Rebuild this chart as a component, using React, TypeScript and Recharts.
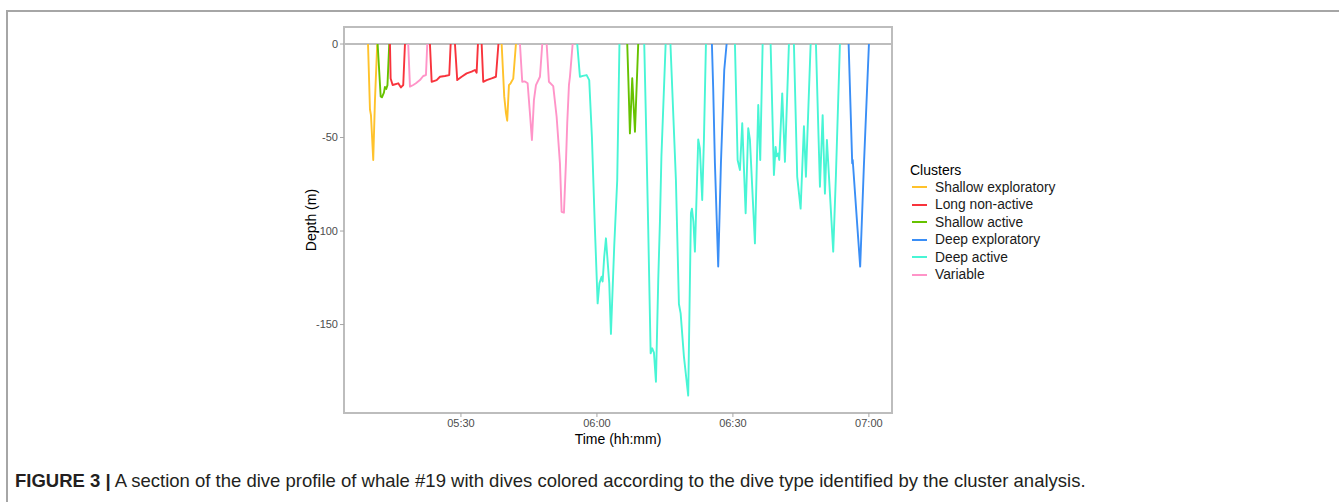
import { LineChart, Line, XAxis, YAxis, ReferenceLine, ReferenceArea } from 'recharts'

const clusterNames = [
  'Shallow exploratory',
  'Long non-active',
  'Shallow active',
  'Deep exploratory',
  'Deep active',
  'Variable',
]
const clusterColors = ['#ffc22b', '#f8333c', '#66c200', '#3a8ef6', '#48f5d5', '#ff94c8']

const timeTicks = [330, 360, 390, 420]
const depthTicks = [0, -50, -100, -150]
const timeDomain = [304.2, 425.1]
const depthDomain = [-197.3, 9.1]

// dive profiles, [time (minutes after midnight), depth (m)]
const dive01 = [[309.5, 0], [309.93, -35], [310.15, -38], [310.65, -62], [311.03, -30], [311.53, 0]]
const dive02 = [[311.62, 0], [312.29, -28], [312.57, -28.5], [313.01, -26], [313.23, -23], [313.52, -24], [313.79, -22], [314.18, 0]]
const dive03 = [[314.34, 0], [314.49, -18.4], [314.93, -21.9], [316.17, -21], [316.76, -23.2], [317.27, -21.9], [317.65, 0]]
const dive04 = [[318.37, 0], [318.75, -22.8], [319.48, -21.9], [320.07, -21], [320.95, -19.3], [321.68, -17.1], [322.28, -16.6], [322.57, 0]]
const dive05 = [[323.16, 0], [323.54, -20.2], [324.64, -19.3], [325.37, -17.5], [326.47, -17.1], [327.42, -16.6], [327.73, 0]]
const dive06 = [[328.68, 0], [329.18, -19.3], [330.15, -17.5], [331.26, -15.7], [332.36, -14.8], [333.09, -13.9], [333.46, -15.3], [333.75, 0]]
const dive07 = [[334.57, 0], [334.92, -20.2], [335.67, -19.3], [336.77, -18.4], [337.72, -17.5], [338.27, 0]]
const dive08 = [[338.98, 0], [339.55, -28], [339.93, -37], [340.21, -41], [340.59, -22], [340.96, -21], [341.54, -18.5], [342.13, 0]]
const dive09 = [[343.02, 0], [343.52, -20.2], [344.12, -20], [344.71, -21], [345.22, -37], [345.66, -51.3], [346.1, -30], [346.55, -22], [347.43, -17.5], [347.94, 0]]
const dive10 = [[348.91, 0], [349.41, -20.2], [350.36, -22.5], [351.11, -38.9], [351.84, -63.7], [352.21, -89.7], [352.72, -90.2], [353.16, -63.7], [353.45, -42.4], [353.83, -21.9], [354.05, -17.5], [354.64, 0]]
const dive11 = [[355.66, 0], [356.25, -17.5], [356.91, -17], [357.73, -16.6], [358.3, -19.3], [358.9, -50], [359.56, -99], [360.16, -138.7], [360.55, -128], [361.04, -124.4], [361.26, -127], [361.61, -113.7], [361.99, -103.9], [362.72, -128], [363.09, -155], [363.82, -108], [364.48, -72.7], [364.97, 0]]
const dive12 = [[366.69, 0], [366.95, -20], [367.28, -47.8], [367.79, -18.3], [368.39, -46.9], [369.11, 0]]
const dive13 = [[370.44, 0], [370.81, -40], [371.32, -99], [371.85, -165.4], [372.2, -162.7], [372.58, -165], [373.02, -180.6], [373.53, -126], [373.9, -95], [374.23, -60], [375.16, 0]]
const dive14 = [[376.22, 0], [377.43, -73], [378.09, -139], [378.47, -144], [379.19, -167], [380.14, -188], [380.74, -90.5], [380.96, -88], [381.29, -95], [381.62, -111], [382.0, -80], [382.35, -51], [382.72, -56], [383.23, -83.4], [383.61, -51], [384.05, 0]]
const dive15 = [[385.37, 0], [385.66, -24.6], [386.03, -63.6], [386.76, -119], [387.36, -63.6], [388.09, -13.9], [388.61, 0]]
const dive16 = [[390.45, 0], [391.04, -62], [391.55, -67.4], [392.06, -42.4], [392.81, -90.5], [393.38, -45], [393.75, -51], [394.86, -106.6], [395.59, -32.6], [396.03, -62], [396.56, 0]]
const dive17 = [[398.32, 0], [399.05, -70], [399.42, -55], [399.65, -60], [400.0, -58.5], [400.22, -62], [400.88, -26.4], [401.48, -63], [402.36, 0]]
const dive18 = [[403.46, 0], [404.19, -71], [404.94, -88], [405.67, -44], [406.11, -71], [407.15, 0]]
const dive19 = [[408.32, 0], [409.2, -76.3], [409.8, -38], [410.3, -80], [410.74, -51.3], [412.13, -111], [412.73, -70], [413.61, 0]]
const dive20 = [[415.53, 0], [416.32, -63.8], [416.43, -62], [417.51, -99.5], [418.08, -119], [418.9, -65], [420.01, 0]]

// cluster index of each dive
const dives = [
  { cluster: 0, points: dive01 },
  { cluster: 2, points: dive02 },
  { cluster: 1, points: dive03 },
  { cluster: 5, points: dive04 },
  { cluster: 1, points: dive05 },
  { cluster: 1, points: dive06 },
  { cluster: 1, points: dive07 },
  { cluster: 0, points: dive08 },
  { cluster: 5, points: dive09 },
  { cluster: 5, points: dive10 },
  { cluster: 4, points: dive11 },
  { cluster: 2, points: dive12 },
  { cluster: 4, points: dive13 },
  { cluster: 4, points: dive14 },
  { cluster: 3, points: dive15 },
  { cluster: 4, points: dive16 },
  { cluster: 4, points: dive17 },
  { cluster: 4, points: dive18 },
  { cluster: 4, points: dive19 },
  { cluster: 3, points: dive20 },
]

const pad = (n: number) => String(n).padStart(2, '0')
const fmtTime = (t: number) => `${pad(Math.floor(t / 60))}:${pad(Math.round(t % 60))}`

const font = '"Liberation Sans", Arial, sans-serif'
const borderGrey = '#bdbdbd'

export default function App() {
  return (
    <div
      style={{
        position: 'absolute',
        left: 0,
        top: 0,
        width: 1339,
        height: 502,
        background: '#fff',
        overflow: 'hidden',
        fontFamily: font,
      }}
    >
      <div
        style={{
          position: 'absolute',
          left: 6,
          top: 10,
          right: -4,
          bottom: -4,
          borderLeft: '2px solid #a6a6a6',
          borderTop: '2px solid #a6a6a6',
        }}
      />
      <LineChart
        width={1339}
        height={502}
        margin={{ top: 27, right: 447, bottom: 55, left: 278 }}
        style={{ position: 'absolute', left: 0, top: 0 }}
      >
        <XAxis
          dataKey="t"
          type="number"
          domain={timeDomain}
          allowDataOverflow
          ticks={timeTicks}
          tickFormatter={fmtTime}
          height={34}
          axisLine={false}
          tickSize={4}
          tickLine={{ stroke: '#a6a6a6' }}
          tick={{ fill: '#4d4d4d', fontSize: 11, fontFamily: font }}
          label={{
            value: 'Time (hh:mm)',
            position: 'insideBottom',
            offset: 3,
            fill: '#000',
            fontSize: 14,
            fontFamily: font,
          }}
        />
        <YAxis
          type="number"
          domain={depthDomain}
          allowDataOverflow
          ticks={depthTicks}
          width={66}
          axisLine={false}
          tickSize={4}
          tickLine={{ stroke: '#a6a6a6' }}
          tick={{ fill: '#4d4d4d', fontSize: 11, fontFamily: font }}
          label={{
            value: 'Depth (m)',
            angle: -90,
            position: 'center',
            fill: '#000',
            fontSize: 14,
            fontFamily: font,
          }}
        />
        <ReferenceLine y={0} stroke={borderGrey} strokeWidth={2} />
        {dives.map((dive, i) => (
          <Line
            key={i}
            data={dive.points.map(([t, d]) => ({ t, d }))}
            dataKey="d"
            type="linear"
            stroke={clusterColors[dive.cluster]}
            strokeWidth={1.9}
            strokeLinejoin="round"
            dot={false}
            activeDot={false}
            isAnimationActive={false}
          />
        ))}
        <ReferenceArea
          x1={timeDomain[0]}
          x2={timeDomain[1]}
          y1={depthDomain[0]}
          y2={depthDomain[1]}
          fill="none"
          fillOpacity={0}
          stroke={borderGrey}
          strokeWidth={2}
        />
      </LineChart>

      <div style={{ position: 'absolute', left: 910, top: 162, fontSize: 14, color: '#000' }}>
        Clusters
      </div>
      {clusterNames.map((name, i) => (
        <div
          key={name}
          style={{
            position: 'absolute',
            left: 912,
            top: 187 + i * 17.5 - 9,
            height: 18,
            display: 'flex',
            alignItems: 'center',
            fontSize: 13.8,
            color: '#1a1a1a',
            whiteSpace: 'nowrap',
          }}
        >
          <span style={{ display: 'inline-block', width: 15, height: 2, background: clusterColors[i], marginRight: 8 }} />
          {name}
        </div>
      ))}

      <div
        style={{
          position: 'absolute',
          left: 15,
          top: 470,
          fontSize: 18.5,
          color: '#231f20',
          whiteSpace: 'nowrap',
        }}
      >
        <b>FIGURE 3 |</b> A section of the dive profile of whale #19 with dives colored according to the dive type identified
        by the cluster analysis.
      </div>
    </div>
  )
}
